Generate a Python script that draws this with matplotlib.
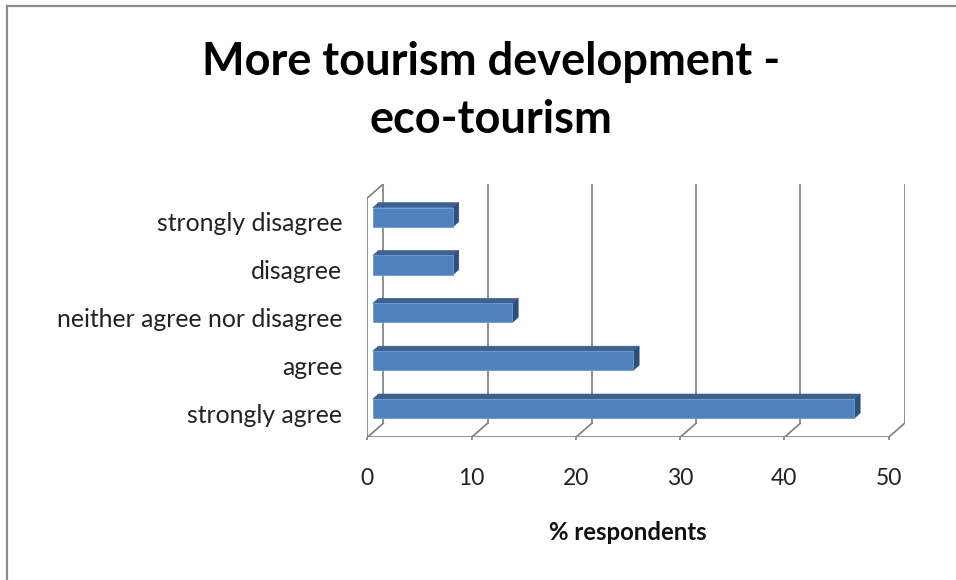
import matplotlib
matplotlib.use("Agg")
import matplotlib.pyplot as plt
from matplotlib.patches import Polygon
from matplotlib.lines import Line2D

# data, bottom to top as drawn
categories = ["strongly agree", "agree", "neither agree nor disagree",
              "disagree", "strongly disagree"]
percent = [46.2, 25.0, 13.4, 7.7, 7.7]
xticks = [0, 10, 20, 30, 40, 50]

plt.rcParams['font.family'] = ['Lato', 'DejaVu Sans']

W, H = 956, 580
fig = plt.figure(figsize=(W / 100, H / 100), dpi=100)

# plot box in pixels (front floor left/bottom, back wall right/top)
px_left, px_right = 367.3, 904.6
px_bottom, px_top = 437.3, 184.0
ax = fig.add_axes([px_left / W, (H - px_bottom) / H,
                   (px_right - px_left) / W, (px_bottom - px_top) / H])

# oblique depth of the 3d box, in data units
DX = 16 / 10.43
DY = 14 / 47.8
xmax = xticks[-1]
n = len(categories)
ax.set_xlim(0, xmax + DX)
ax.set_ylim(0, n + DY)

grid_c = '#7f7f7f'
lw = 1.2
# back wall gridlines + floor diagonals
for v in xticks:
    ax.plot([v + DX, v + DX], [DY, n + DY], color=grid_c, lw=lw, zorder=1)
    ax.plot([v, v + DX], [0, DY], color=grid_c, lw=lw, zorder=1)
# front floor edge and left wall
ax.plot([0, xmax], [0, 0], color=grid_c, lw=lw, zorder=1)
ax.plot([0, 0], [0, n], color=grid_c, lw=lw, zorder=1)
ax.plot([0, DX], [n, n + DY], color=grid_c, lw=lw, zorder=1)

# bars as 3d boxes
d0, bd, h = 0.34, 0.36, 0.40
front_c, top_c, side_c = '#4F81BD', '#3B6291', '#2D4F7A'
for i, v in enumerate(percent):
    x0 = d0 * DX
    y0 = i + 0.5 - h / 2 + d0 * DY
    ddx, ddy = bd * DX, bd * DY
    front = Polygon([(x0, y0), (x0 + v, y0), (x0 + v, y0 + h), (x0, y0 + h)],
                    facecolor=front_c, edgecolor='#6f9ad0', lw=0.6, zorder=3)
    top = Polygon([(x0, y0 + h), (x0 + v, y0 + h),
                   (x0 + v + ddx, y0 + h + ddy), (x0 + ddx, y0 + h + ddy)],
                  facecolor=top_c, edgecolor=top_c, lw=0.4, zorder=2)
    side = Polygon([(x0 + v, y0), (x0 + v + ddx, y0 + ddy),
                    (x0 + v + ddx, y0 + h + ddy), (x0 + v, y0 + h)],
                   facecolor=side_c, edgecolor=side_c, lw=0.4, zorder=2)
    for p in (front, top, side):
        ax.add_patch(p)

for s in ax.spines.values():
    s.set_visible(False)

ax.set_xticks(xticks)
ax.set_xticklabels([str(t) for t in xticks], fontsize=16.5, color='#222222')
ax.tick_params(axis='x', direction='out', length=2.2, width=lw, color=grid_c, pad=20)
ax.set_yticks([i + 0.5 for i in range(n)])
ax.set_yticklabels(categories, fontsize=17.8, color='#222222')
ax.tick_params(axis='y', length=0, pad=18)

fig.text(628 / W, 1 - 532 / H, '% respondents', ha='center', va='center',
         fontsize=17.2, fontweight='bold', color='#111111')
fig.text(491 / W, 1 - 91 / H, 'More tourism development -\neco-tourism',
         ha='center', va='center', fontsize=32.5, fontweight='bold',
         linespacing=1.45, color='black')

# chart frame (only top and left edges show)
frame_c = '#8c8c8c'
fig.add_artist(Line2D([7 / W, 7 / W], [0, 1 - 6 / H], color=frame_c, lw=1.6,
                      transform=fig.transFigure))
fig.add_artist(Line2D([7 / W, 1], [1 - 6 / H, 1 - 6 / H], color=frame_c, lw=1.6,
                      transform=fig.transFigure))

fig.savefig('out.png', dpi=100)
